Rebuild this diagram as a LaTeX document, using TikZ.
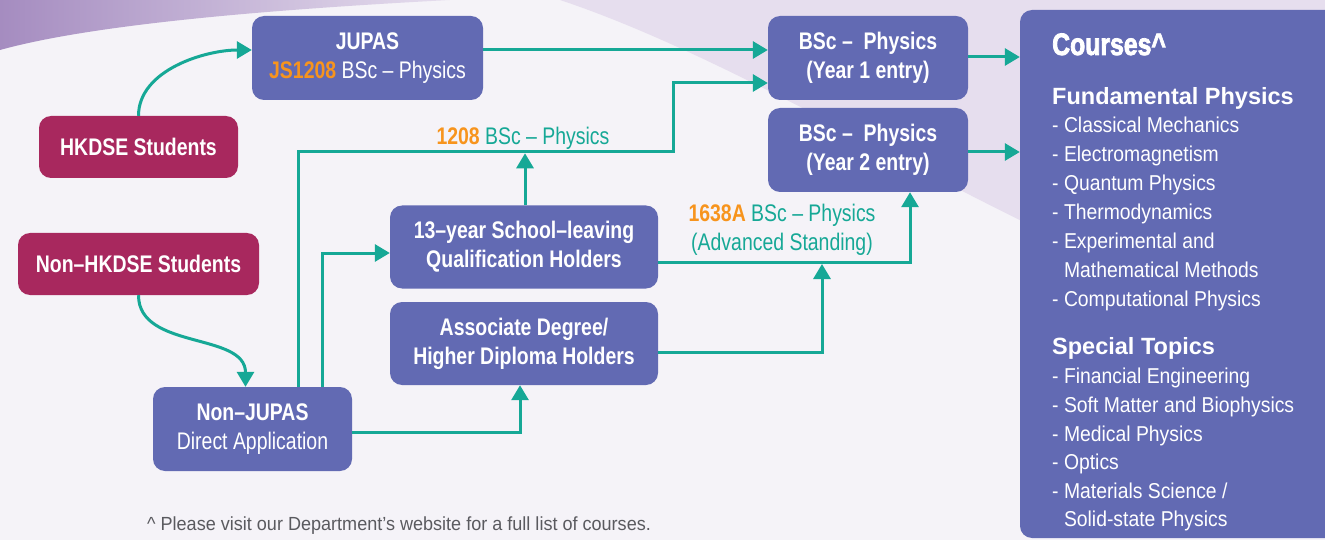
\documentclass[tikz,border=0pt]{standalone}
\usepackage{fontspec}
\setmainfont{Liberation Sans}
\newfontfamily\narrowfont[FakeStretch=0.81]{Liberation Sans}
\newfontfamily\notefont[FakeStretch=0.95]{Liberation Sans}
\newfontfamily\listfont[FakeStretch=0.9]{Liberation Sans}
\newfontfamily\heavyfont[FakeStretch=0.8,FakeBold=2.5]{Liberation Sans}
\usetikzlibrary{arrows.meta}
\definecolor{boxblue}{RGB}{98,106,179}
\definecolor{boxred}{RGB}{168,40,94}
\definecolor{flowteal}{RGB}{22,168,150}
\definecolor{codeorange}{RGB}{247,148,29}
\definecolor{paper}{RGB}{245,243,248}
\definecolor{haze}{RGB}{230,222,238}
\definecolor{swoosh}{RGB}{165,140,192}
\definecolor{notegray}{RGB}{90,90,95}

\begin{document}
\begin{tikzpicture}[x=1pt, y=-1pt,
	box/.style={fill=boxblue, rounded corners=12pt, text=white, align=center, inner sep=0pt,
		font=\narrowfont\fontsize{24}{29}\selectfont},
	studentbox/.style={box, fill=boxred},
	flow/.style={draw=flowteal, line width=3pt, -{Triangle[length=15pt,width=17pt]}},
	flowlabel/.style={text=flowteal, align=center, inner sep=0pt,
		font=\narrowfont\fontsize{24}{29}\selectfont},
	listitem/.style={anchor=base west, text=white, inner sep=0pt, font=\listfont\fontsize{21.5}{22}\selectfont}]
	\useasboundingbox (0,0) rectangle (1325,540);

	% background
	\fill[paper] (0,0) rectangle (1325,540);
	\fill[haze] (560,0) -- (1325,0) -- (1325,330) .. controls (1100,300) and (800,80) .. (560,0) -- cycle;
	\shade[left color=swoosh, right color=haze] (0,0) -- (450,0) .. controls (260,10) and (90,25) .. (0,50) -- cycle;

	% boxes
	\node[box, minimum width=231pt, minimum height=84pt] (jupas) at (367.5,58)
		{\textbf{JUPAS}\\\textcolor{codeorange}{\textbf{JS1208}} BSc – Physics};
	\node[studentbox, minimum width=199pt, minimum height=62pt] (hkdse) at (138.5,147)
		{\textbf{HKDSE Students}};
	\node[studentbox, minimum width=241pt, minimum height=62pt] (nonhkdse) at (138.5,264)
		{\textbf{Non–HKDSE Students}};
	\node[box, minimum width=199pt, minimum height=84pt] (nonjupas) at (252.5,429)
		{\textbf{Non–JUPAS}\\Direct Application};
	\node[box, minimum width=268pt, minimum height=83pt] (school) at (524,247)
		{\textbf{13–year School–leaving}\\\textbf{Qualification Holders}};
	\node[box, minimum width=268pt, minimum height=83pt] (assoc) at (524,343.5)
		{\textbf{Associate Degree/}\\\textbf{Higher Diploma Holders}};
	\node[box, minimum width=200pt, minimum height=84pt] (yearone) at (868,58)
		{\textbf{BSc –\ \ Physics}\\\textbf{(Year 1 entry)}};
	\node[box, minimum width=200pt, minimum height=84pt] (yeartwo) at (868,150)
		{\textbf{BSc –\ \ Physics}\\\textbf{(Year 2 entry)}};
	\node[box, minimum width=320pt, minimum height=528pt] (courses) at (1180,274) {};

	% labels on the lines
	\node[flowlabel, anchor=base] (lblone) at (523,145)
		{\textcolor{codeorange}{\textbf{1208}} BSc – Physics};
	\node[flowlabel, anchor=base] (lbltwo) at (782,222)
		{\textcolor{codeorange}{\textbf{1638A}} BSc – Physics};
	\node[flowlabel, anchor=base] (lblthree) at (782,251) {(Advanced Standing)};

	% connectors
	\draw[flow] (hkdse.north) to[out=90, in=180, looseness=0.9] ([yshift=8pt]jupas.west);
	\draw[flow] ([yshift=8pt]jupas.east) -- ([yshift=8pt]yearone.west);
	\draw[flow] (nonhkdse.south) to[out=-90, in=90] ([xshift=-7pt]nonjupas.north);
	\draw[flow] ([xshift=45.5pt]nonjupas.north) |- (673,152) |- ([yshift=-25pt]yearone.west);
	\draw[flow] ([xshift=1pt]school.north) -- ++(0,-52);
	\draw[flow] ([xshift=69.5pt]nonjupas.north) |- ([yshift=-6pt]school.west);
	\draw[flow] ([yshift=-3pt]nonjupas.east) -| ([xshift=-4pt]assoc.south);
	\draw[flow] ([yshift=-15pt]school.east) -| ([xshift=42pt]yeartwo.south);
	\draw[flow] ([yshift=-9pt]assoc.east) -| (822,264);
	\draw[flow] ([yshift=1pt]yearone.east) -- ([yshift=1pt]yearone.east -| courses.west);
	\draw[flow] ([yshift=-2pt]yeartwo.east) -- ([yshift=-2pt]yeartwo.east -| courses.west);

	% course list
	\node[anchor=base west, text=white, inner sep=0pt, font=\heavyfont\bfseries\fontsize{31}{31}\selectfont]
		(title) at (1052,55) {Courses\textasciicircum};
	\node[anchor=base west, text=white, inner sep=0pt, font=\bfseries\fontsize{23.5}{24}\selectfont]
		(fundamental) at (1052,105) {Fundamental Physics};
	\node[anchor=base west, text=white, inner sep=0pt, font=\bfseries\fontsize{23.5}{24}\selectfont]
		(special) at (1052,354) {Special Topics};
	\foreach \y/\txt in {133/{- Classical Mechanics}, 162/{- Electromagnetism}, 191/{- Quantum Physics},
		220/{- Thermodynamics}, 248/{- Experimental and}, 277/{\hphantom{- }Mathematical Methods},
		306/{- Computational Physics}, 383/{- Financial Engineering}, 412/{- Soft Matter and Biophysics},
		441/{- Medical Physics}, 469/{- Optics}, 498/{- Materials Science /}, 526/{\hphantom{- }Solid-state Physics}}
		\node[listitem] at (1052,\y) {\txt};

	% footnote
	\node[anchor=base west, text=notegray, inner sep=0pt, font=\notefont\fontsize{19}{19}\selectfont]
		(note) at (147,530) {\textasciicircum\ Please visit our Department’s website for a full list of courses.};
\end{tikzpicture}
\end{document}
